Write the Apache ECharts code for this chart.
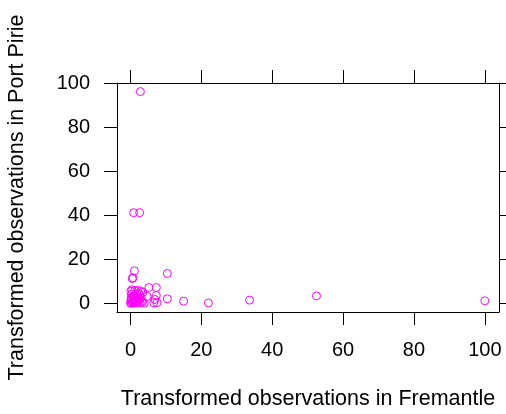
<!DOCTYPE html>
<html>
<head>
<meta charset="utf-8">
<script src="https://cdn.jsdelivr.net/npm/echarts@6/dist/echarts.min.js"></script>
<style>
html,body{margin:0;padding:0;background:#fff;}
#c{width:506px;height:414px;}
</style>
</head>
<body>
<div id="c"></div>
<script>
const xTitle = "Transformed observations in Fremantle";
const yTitle = "Transformed observations in Port Pirie";
const tickValues = [0, 20, 40, 60, 80, 100];
const fremantle = [2.8, 0.9, 2.6, 1.1, 0.7, 0.5, 10.4, 5.2, 7.3, 7.3, 4.7, 10.4, 15.0, 22.0, 33.6, 52.5, 100, 6.6, 7.5, 3.9, 6.9,
  0.1, 0.4, 1.2, 2.0, 2.9, 3.5, 0.3, 1.0, 1.8, 2.6, 0.2, 0.8, 1.5, 2.2, 3.0, 0.1, 0.5, 1.1, 1.7, 2.4, 3.2, 0.2, 0.6, 1.0, 1.4, 2.0, 2.7, 0.3, 0.9, 1.3, 0.05, 0.7, 3.4, 2.3, 1.6];
const portPirie = [96.2, 41.2, 41.2, 14.8, 11.6, 11.3, 13.6, 7.2, 7.2, 3.6, 3.2, 2.1, 1.0, 0.2, 1.5, 3.4, 1.2, 0.3, 0.4, 0.1, 1.8,
  5.5, 6.2, 5.8, 5.9, 5.6, 5.0, 4.1, 3.6, 4.3, 3.9, 2.5, 2.0, 2.8, 2.2, 2.6, 1.2, 0.8, 1.5, 0.9, 1.3, 1.0, 0.2, 0.4, 0.1, 0.5, 0.3, 0.2, 1.8, 2.9, 0.6, 0.05, 3.2, 0.5, 4.8, 1.9];

const pts = fremantle.map((x, i) => [x, portPirie[i]]);
const FONT = "Liberation Sans";
const lineStyle = {color: '#000', width: 1};
function axisBase(showLabel) {
  return {
    type: 'value',
    axisLine: {show: true, onZero: false, lineStyle: lineStyle},
    axisTick: {show: true, inside: false, length: 13, lineStyle: lineStyle, customValues: tickValues},
    axisLabel: {show: showLabel, customValues: tickValues, color: '#000', fontFamily: FONT, fontSize: 20},
    splitLine: {show: false}
  };
}
const chart = echarts.init(document.getElementById('c'), null, {renderer: 'canvas'});
const xB = axisBase(true), xT = axisBase(false), yL = axisBase(true), yR = axisBase(false);
Object.assign(xB, {position: 'bottom', min: -3.8, max: 104, name: xTitle, nameLocation: 'middle', nameGap: 76,
  nameTextStyle: {fontFamily: FONT, fontSize: 21.5, color: '#000'}});
xB.axisLabel.margin = 28;
Object.assign(xT, {position: 'top', min: -3.8, max: 104});
Object.assign(yL, {position: 'left', min: -3.9, max: 100.1, name: yTitle, nameLocation: 'middle', nameGap: 89, nameRotate: 90,
  nameTextStyle: {fontFamily: FONT, fontSize: 21.5, color: '#000'}});
yL.axisLabel.margin = 27;
Object.assign(yR, {position: 'right', min: -3.9, max: 100.1});
chart.setOption({
  animation: false,
  backgroundColor: '#fff',
  grid: {left: 117, top: 83, width: 382, height: 229, containLabel: false, outerBoundsMode: 'none'},
  xAxis: [xB, xT],
  yAxis: [yL, yR],
  series: [{
    type: 'scatter',
    xAxisIndex: 0, yAxisIndex: 0,
    data: pts,
    symbol: 'circle',
    symbolSize: 8,
    itemStyle: {color: 'rgba(0,0,0,0)', borderColor: '#FF00FF', borderWidth: 1, opacity: 1},
    emphasis: {disabled: true}
  }]
});
</script>
</body>
</html>
